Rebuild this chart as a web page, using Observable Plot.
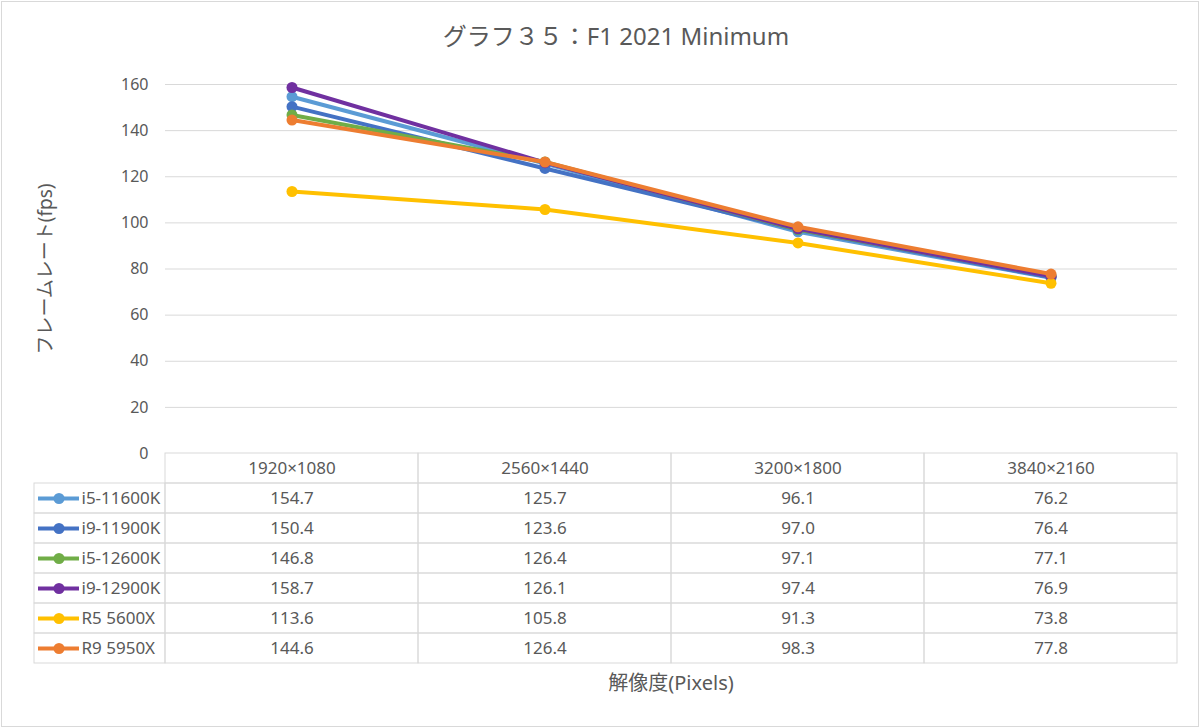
<!DOCTYPE html>
<html><head><meta charset="utf-8">
<script src="https://cdn.jsdelivr.net/npm/d3@7"></script>
<script src="https://cdn.jsdelivr.net/npm/@observablehq/plot@0.6"></script>
<style>
body{margin:0;background:#fff;}
#root{position:relative;width:1200px;height:728px;overflow:hidden;font-family:"Noto Sans","Noto Sans CJK JP",sans-serif;color:#595959;background:#fff;}
#frame{position:absolute;left:1px;top:1px;width:1198px;height:726px;box-sizing:border-box;border:1px solid #d9d9d9;}
.abs{position:absolute;}
#title{left:16px;width:1200px;top:20px;text-align:center;font-size:24px;line-height:32px;white-space:nowrap;}
#xlabel{left:165px;width:1012px;top:669px;text-align:center;font-size:20px;line-height:28px;white-space:nowrap;}
</style></head>
<body><div id="root"><div id="frame"></div>
<div id="title" class="abs">グラフ３５：F1 2021 Minimum</div>
<div id="chart" class="abs" style="left:0;top:60px"></div>
<div id="table" class="abs" style="left:0;top:452px"></div>
<div id="legend" class="abs" style="left:33px;top:452px"></div>
<div id="xlabel" class="abs">解像度(Pixels)</div>
</div>
<script>
const categories = ["1920×1080", "2560×1440", "3200×1800", "3840×2160"];
const seriesNames = ["i5-11600K", "i9-11900K", "i5-12600K", "i9-12900K", "R5 5600X", "R9 5950X"];
const seriesColors = ["#5B9BD5", "#4472C4", "#70AD47", "#7030A0", "#FFC000", "#ED7D31"];
const i5_11600K = [154.7, 125.7, 96.1, 76.2];
const i9_11900K = [150.4, 123.6, 97.0, 76.4];
const i5_12600K = [146.8, 126.4, 97.1, 77.1];
const i9_12900K = [158.7, 126.1, 97.4, 76.9];
const r5_5600X = [113.6, 105.8, 91.3, 73.8];
const r9_5950X = [144.6, 126.4, 98.3, 77.8];
const yTicks = [0, 20, 40, 60, 80, 100, 120, 140, 160];
const yLabel = "フレームレート(fps)";

const seriesValues = [i5_11600K, i9_11900K, i5_12600K, i9_12900K, r5_5600X, r9_5950X];
const rows = seriesNames.flatMap((s, i) => categories.map((c, j) => ({series: s, cat: c, value: seriesValues[i][j]})));
const font = '"Noto Sans","Noto Sans CJK JP",sans-serif';

const chart = Plot.plot({
  width: 1200, height: 410,
  marginLeft: 165, marginRight: 23, marginTop: 24, marginBottom: 17,
  style: {background: "transparent", color: "#595959", fontFamily: font, fontSize: "16px", overflow: "visible"},
  x: {type: "band", domain: categories, padding: 0, axis: null},
  y: {domain: [0, 160], ticks: yTicks, tickSize: 0, tickPadding: 17, label: null},
  marks: [
    Plot.gridY(yTicks.filter(t => t > 0), {stroke: "#d9d9d9", strokeOpacity: 1}),
    Plot.text([yLabel], {frameAnchor: "left", textAnchor: "middle", dx: -120, rotate: -90, fontSize: 19, fill: "#595959"}),
    ...seriesNames.flatMap((s, i) => {
      const d = rows.filter(r => r.series === s);
      return [
        Plot.line(d, {x: "cat", y: "value", stroke: seriesColors[i], strokeWidth: 4}),
        Plot.dot(d, {x: "cat", y: "value", r: 5.5, fill: seriesColors[i]})
      ];
    })
  ]
});
document.getElementById("chart").appendChild(chart);

const tableRows = ["header", ...seriesNames];
const cells = [
  ...categories.map(c => ({row: "header", cat: c, text: c})),
  ...rows.map(r => ({row: r.series, cat: r.cat, text: r.value.toFixed(1)}))
];
const table = Plot.plot({
  width: 1200, height: 213,
  marginLeft: 165, marginRight: 23, marginTop: 1, marginBottom: 2,
  style: {background: "transparent", color: "#595959", fontFamily: font, overflow: "visible"},
  x: {type: "band", domain: categories, padding: 0, axis: null},
  y: {type: "band", domain: tableRows, padding: 0, axis: null},
  marks: [
    Plot.cell(cells, {x: "cat", y: "row", fill: "none", stroke: "#d9d9d9"}),
    Plot.text(cells, {x: "cat", y: "row", text: "text", fontSize: 17, fill: "#595959"})
  ]
});
document.getElementById("table").appendChild(table);

const legendRows = seriesNames.map((s, i) => ({row: s, color: seriesColors[i]}));
const legend = Plot.plot({
  width: 133, height: 213,
  marginLeft: 5, marginRight: 87, marginTop: 1, marginBottom: 2,
  style: {background: "transparent", color: "#595959", fontFamily: font, overflow: "visible"},
  y: {type: "band", domain: tableRows, padding: 0, axis: null},
  marks: [
    Plot.cell(legendRows, {y: "row", fill: "none", stroke: "#d9d9d9", insetLeft: -4, insetRight: -86}),
    Plot.ruleY(legendRows, {y: "row", stroke: "color", strokeWidth: 4}),
    Plot.dot(legendRows, {y: "row", fill: "color", r: 5.5}),
    Plot.text(legendRows, {y: "row", text: "row", frameAnchor: "right", textAnchor: "start", dx: 2, fontSize: 17, fill: "#595959"})
  ]
});
document.getElementById("legend").appendChild(legend);
</script>
</body></html>
